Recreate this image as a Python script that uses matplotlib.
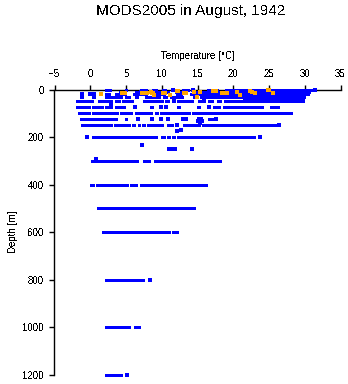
import numpy as np
import matplotlib
matplotlib.use('Agg')
import matplotlib.pyplot as plt

plt.rcParams['font.family'] = ['Liberation Sans', 'DejaVu Sans']
plt.rcParams['text.antialiased'] = False

# temperature runs (start, end) in degC observed along each standard depth [m]
runs_0 = [(2.0, 2.9), (4.9, 5.2), (7.0, 7.9), (8.7, 9.4), (10.0, 10.6), (12.9, 13.8),
          (16.3, 17.8), (18.9, 31.0)]
runs_10 = [(4.0, 4.4), (6.2, 6.8), (7.8, 11.0), (11.9, 13.5), (14.4, 30.8)]
runs_20 = [(2.0, 2.7), (3.5, 5.0), (6.0, 8.0), (8.8, 10.5), (12.0, 12.8), (14.0, 30.6)]
runs_30 = [(0.2, 0.7), (2.1, 3.7), (3.9, 4.4), (4.9, 5.6), (7.7, 9.8), (10.2, 10.8),
           (11.2, 13.0), (14.4, 14.9), (15.4, 30.1)]
runs_40 = [(21.4, 29.9)]
runs_50 = [(-2.0, 0.4), (1.1, 3.0), (3.5, 4.2), (4.4, 6.0), (7.4, 8.6), (8.8, 10.2),
           (10.5, 11.0), (12.1, 14.4), (15.0, 15.6), (16.5, 17.2), (17.7, 18.3), (18.7, 29.9)]
runs_75 = [(-2.0, 0.0), (0.3, 1.8), (2.1, 3.0), (3.5, 4.9), (8.4, 8.8), (12.1, 12.6),
           (14.9, 15.4), (17.2, 18.2), (18.6, 24.2), (25.1, 26.4)]
runs_100 = [(-1.7, 0.0), (0.2, 3.9), (4.2, 5.8), (6.3, 7.9), (8.1, 8.6), (9.1, 9.5),
            (9.8, 14.0), (14.3, 28.2)]
runs_125 = [(-1.4, 1.6), (1.8, 3.7), (4.9, 5.2), (16.5, 17.2)]
runs_150 = [(-1.3, 3.0), (3.3, 5.6), (5.8, 6.3), (6.7, 7.0), (7.3, 7.7), (8.0, 10.2),
            (10.7, 11.6), (13.0, 15.4), (15.6, 26.1)]
runs_200 = [(0.2, 9.3), (9.9, 10.4), (10.7, 11.2), (11.5, 11.8), (12.1, 22.2), (22.4, 23.0)]
runs_300 = [(0.1, 2.3), (2.5, 6.7), (7.4, 8.4), (8.9, 18.3)]
runs_400 = [(0.0, 0.5), (0.8, 5.3), (5.6, 6.3), (6.4, 6.6), (6.9, 16.3)]
runs_500 = [(1.0, 2.3), (2.5, 14.7)]
runs_600 = [(1.6, 11.2), (11.5, 12.3)]
runs_800 = [(2.1, 7.5)]
runs_1000 = [(2.1, 5.5), (6.1, 6.9)]
runs_1200 = [(2.1, 4.4)]

# single blue observations
pt_depth = [0, 0, 0, 10, 20, 20, 20, 30, 30, 62, 50, 50,
            75, 75, 75, 75, 125, 125, 125, 125, 125, 125, 125, 125, 125,
            133, 140, 133, 150, 150, 172, 175, 200, 200, 232,
            250, 250, 250, 250, 293, 800, 1200]
pt_temp = [11.6, 14.4, 31.5, 7.1, -1.2, 0.0, 0.5, -1.1, 6.5, 2.9, 11.7, 15.9,
           6.3, 9.9, 10.6, 16.6, 6.7, 8.6, 9.9, 10.9, 13.0, 13.4, 15.2, 15.5, 17.6,
           15.0, 15.3, 15.6, 12.2, 26.4, 12.7, 12.1, -0.4, 23.7, 7.3,
           11.0, 11.4, 11.8, 14.2, 0.8, 8.4, 5.2]

# flagged observations (orange)
orange_depth = [20, 15, 15, 15, 15, 15, 15, 15, 15, 15, 5, 5, 15, 15, 12, 10,
                5, 5, 15, 15, 15, 12, 5, 10, 15, 0, 0, 15, 12, 25, 22, 30, 22]
orange_temp = [1.5, 4.4, 4.9, 7.2, 7.6, 7.9, 8.6, 8.8, 10.2, 10.5, 12.1, 12.3, 13.1, 13.4, 14.5, 15.4,
               17.2, 17.6, 18.4, 18.8, 19.1, 20.5, 22.4, 22.6, 23.1, 24.8, 25.0, 25.5, 8.5, 8.9, 11.2, 14.9, 21.0]

levels = {0: runs_0, 10: runs_10, 20: runs_20, 30: runs_30, 40: runs_40, 50: runs_50,
          75: runs_75, 100: runs_100, 125: runs_125, 150: runs_150, 200: runs_200,
          300: runs_300, 400: runs_400, 500: runs_500, 600: runs_600, 800: runs_800,
          1000: runs_1000, 1200: runs_1200}

xticks = [-5, 0, 5, 10, 15, 20, 25, 30, 35]
yticks = [0, 200, 400, 600, 800, 1000, 1200]

fig = plt.figure(figsize=(3.48, 3.84), dpi=100)
ax = fig.add_axes([54.5 / 348, 9 / 384, 286 / 348, 285.5 / 384])

for depth, runs in levels.items():
    t0 = [r[0] for r in runs]
    t1 = [r[1] for r in runs]
    ax.hlines([depth] * len(runs), t0, t1, colors='#0000ff', linewidth=2.0,
              capstyle='butt', antialiased=False, clip_on=False, zorder=3)

ax.plot(pt_temp, pt_depth, 's', color='#0000ff', markersize=2.4, markeredgewidth=0,
        antialiased=False, clip_on=False, zorder=3)
ax.plot(orange_temp, orange_depth, 's', color='#ffa500', markersize=2.4, markeredgewidth=0,
        antialiased=False, clip_on=False, zorder=4)

ax.set_xlim(-5, 35)
ax.set_ylim(1200, 0)
ax.set_xticks(xticks)
ax.set_yticks(yticks)
ax.xaxis.tick_top()
ax.xaxis.set_label_position('top')
ax.spines['right'].set_visible(False)
ax.spines['bottom'].set_visible(False)
ax.spines['top'].set_linewidth(1.0)
ax.spines['left'].set_linewidth(1.0)
ax.tick_params(axis='both', length=3.5, width=1.0, labelsize=7, pad=4)
ax.set_xlabel('Temperature [°C]', fontsize=7, labelpad=7)
ax.set_ylabel('Depth [m]', fontsize=7, labelpad=3.5)

fig.text(0.547, 1 - 10.5 / 384, 'MODS2005 in August, 1942', ha='center', va='center', fontsize=11)

plt.savefig('out.png', dpi=100)
